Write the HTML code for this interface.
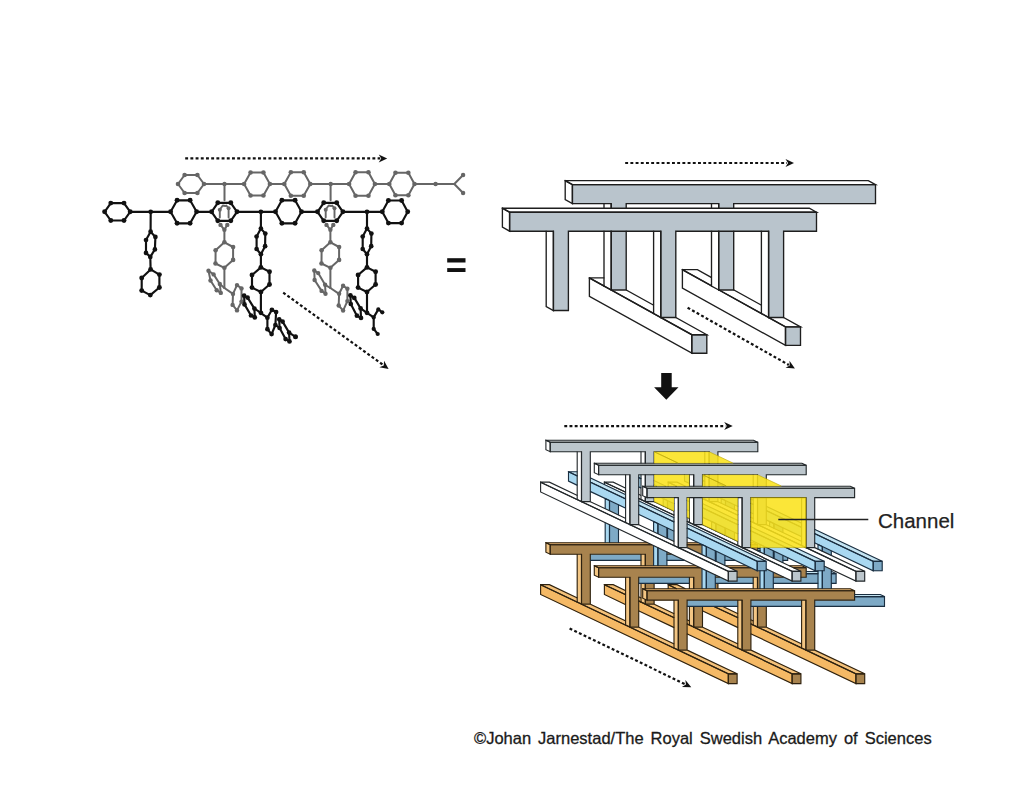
<!DOCTYPE html>
<html><head><meta charset="utf-8"><style>
html,body{margin:0;padding:0;background:#fff;}
body{width:1024px;height:788px;overflow:hidden;font-family:"Liberation Sans",sans-serif;}
svg{display:block;}
</style></head><body>
<svg width="1024" height="788" viewBox="0 0 1024 788">
<path d="M204 184 L244.1 184" fill="none" stroke="#666666" stroke-width="2" stroke-linejoin="round" stroke-linecap="round"/>
<path d="M269.9 184 L284.3 184" fill="none" stroke="#666666" stroke-width="2" stroke-linejoin="round" stroke-linecap="round"/>
<path d="M310.4 184 L349.1 184" fill="none" stroke="#666666" stroke-width="2" stroke-linejoin="round" stroke-linecap="round"/>
<path d="M374.9 184 L389.3 184" fill="none" stroke="#666666" stroke-width="2" stroke-linejoin="round" stroke-linecap="round"/>
<path d="M414.5 184 L454.3 184" fill="none" stroke="#666666" stroke-width="2" stroke-linejoin="round" stroke-linecap="round"/>
<path d="M463.1 175 L454.3 184 L463.1 193" fill="none" stroke="#666666" stroke-width="2" stroke-linejoin="round" stroke-linecap="round"/>
<circle cx="435.6" cy="184" r="2.2" fill="#666666"/><circle cx="463.1" cy="175" r="2.2" fill="#666666"/><circle cx="463.1" cy="193" r="2.2" fill="#666666"/><circle cx="224.5" cy="184" r="2.2" fill="#666666"/><circle cx="330.7" cy="184" r="2.2" fill="#666666"/>
<path d="M178 184 L184.6 175 L197.4 175 L204 184 L197.4 193 L184.6 193Z" fill="none" stroke="#666666" stroke-width="2" stroke-linejoin="round"/><circle cx="178" cy="184" r="2.3" fill="#666666"/><circle cx="184.6" cy="175" r="2.3" fill="#666666"/><circle cx="197.4" cy="175" r="2.3" fill="#666666"/><circle cx="204" cy="184" r="2.3" fill="#666666"/><circle cx="197.4" cy="193" r="2.3" fill="#666666"/><circle cx="184.6" cy="193" r="2.3" fill="#666666"/>
<path d="M244.1 184 L250.55 172.5 L263.45 172.5 L269.9 184 L263.45 195.5 L250.55 195.5Z" fill="none" stroke="#666666" stroke-width="2" stroke-linejoin="round"/><circle cx="244.1" cy="184" r="2.3" fill="#666666"/><circle cx="250.55" cy="172.5" r="2.3" fill="#666666"/><circle cx="263.45" cy="172.5" r="2.3" fill="#666666"/><circle cx="269.9" cy="184" r="2.3" fill="#666666"/><circle cx="263.45" cy="195.5" r="2.3" fill="#666666"/><circle cx="250.55" cy="195.5" r="2.3" fill="#666666"/>
<path d="M284.3 184 L290.85 172.3 L303.75 172.3 L310.3 184 L303.75 195.7 L290.85 195.7Z" fill="none" stroke="#666666" stroke-width="2" stroke-linejoin="round"/><circle cx="284.3" cy="184" r="2.3" fill="#666666"/><circle cx="290.85" cy="172.3" r="2.3" fill="#666666"/><circle cx="303.75" cy="172.3" r="2.3" fill="#666666"/><circle cx="310.3" cy="184" r="2.3" fill="#666666"/><circle cx="303.75" cy="195.7" r="2.3" fill="#666666"/><circle cx="290.85" cy="195.7" r="2.3" fill="#666666"/>
<path d="M349.1 184 L355.55 172.3 L368.45 172.3 L374.9 184 L368.45 195.7 L355.55 195.7Z" fill="none" stroke="#666666" stroke-width="2" stroke-linejoin="round"/><circle cx="349.1" cy="184" r="2.3" fill="#666666"/><circle cx="355.55" cy="172.3" r="2.3" fill="#666666"/><circle cx="368.45" cy="172.3" r="2.3" fill="#666666"/><circle cx="374.9" cy="184" r="2.3" fill="#666666"/><circle cx="368.45" cy="195.7" r="2.3" fill="#666666"/><circle cx="355.55" cy="195.7" r="2.3" fill="#666666"/>
<path d="M389.3 184 L395.45 172.7 L408.35 172.7 L414.5 184 L408.35 195.3 L395.45 195.3Z" fill="none" stroke="#666666" stroke-width="2" stroke-linejoin="round"/><circle cx="389.3" cy="184" r="2.3" fill="#666666"/><circle cx="395.45" cy="172.7" r="2.3" fill="#666666"/><circle cx="408.35" cy="172.7" r="2.3" fill="#666666"/><circle cx="414.5" cy="184" r="2.3" fill="#666666"/><circle cx="408.35" cy="195.3" r="2.3" fill="#666666"/><circle cx="395.45" cy="195.3" r="2.3" fill="#666666"/>
<path d="M224.5 184 L224.5 200.3" fill="none" stroke="#666666" stroke-width="2" stroke-linejoin="round" stroke-linecap="round"/>
<path d="M330.6 184 L330.6 200.3" fill="none" stroke="#666666" stroke-width="2" stroke-linejoin="round" stroke-linecap="round"/>
<path d="M220.5 224.9 L224.4 229.8 L227.3 224.9" fill="none" stroke="#666666" stroke-width="2" stroke-linejoin="round" stroke-linecap="round"/><circle cx="220.5" cy="224.9" r="2.2" fill="#666666"/><circle cx="227.3" cy="224.9" r="2.2" fill="#666666"/><circle cx="224.4" cy="229.8" r="2.2" fill="#666666"/><path d="M224.4 229.8 L224.4 242.3" fill="none" stroke="#666666" stroke-width="2" stroke-linejoin="round" stroke-linecap="round"/><path d="M224.4 242.3 L233.1 247 L233.1 259.9 L224.4 267.8 L215.5 263.5 L215.6 250.3Z" fill="none" stroke="#666666" stroke-width="2" stroke-linejoin="round"/><circle cx="224.4" cy="242.3" r="2.3" fill="#666666"/><circle cx="233.1" cy="247" r="2.3" fill="#666666"/><circle cx="233.1" cy="259.9" r="2.3" fill="#666666"/><circle cx="224.4" cy="267.8" r="2.3" fill="#666666"/><circle cx="215.5" cy="263.5" r="2.3" fill="#666666"/><circle cx="215.6" cy="250.3" r="2.3" fill="#666666"/><path d="M224.4 267.8 L224.4 288" fill="none" stroke="#666666" stroke-width="2" stroke-linejoin="round" stroke-linecap="round"/><path d="M208.5 270.8 L213.6 274.4 L219.8 284 L220.8 292.9 L216.7 290.2 L210.5 280.5Z" fill="none" stroke="#666666" stroke-width="2" stroke-linejoin="round"/><circle cx="208.5" cy="270.8" r="2.2" fill="#666666"/><circle cx="213.6" cy="274.4" r="2.2" fill="#666666"/><circle cx="219.8" cy="284" r="2.2" fill="#666666"/><circle cx="220.8" cy="292.9" r="2.2" fill="#666666"/><circle cx="216.7" cy="290.2" r="2.2" fill="#666666"/><circle cx="210.5" cy="280.5" r="2.2" fill="#666666"/><path d="M224.4 288 L219.8 284" fill="none" stroke="#666666" stroke-width="2" stroke-linejoin="round" stroke-linecap="round"/><path d="M224.4 288 L233 293.9" fill="none" stroke="#666666" stroke-width="2" stroke-linejoin="round" stroke-linecap="round"/><path d="M233 293.9 L237 285.1 L241.5 288.4 L241.5 301.6 L237 310.4 L232.6 304.9Z" fill="none" stroke="#666666" stroke-width="2" stroke-linejoin="round"/><circle cx="233" cy="293.9" r="2.2" fill="#666666"/><circle cx="237" cy="285.1" r="2.2" fill="#666666"/><circle cx="241.5" cy="288.4" r="2.2" fill="#666666"/><circle cx="241.5" cy="301.6" r="2.2" fill="#666666"/><circle cx="237" cy="310.4" r="2.2" fill="#666666"/><circle cx="232.6" cy="304.9" r="2.2" fill="#666666"/>
<path d="M326.5 224.9 L330.4 229.8 L333.3 224.9" fill="none" stroke="#666666" stroke-width="2" stroke-linejoin="round" stroke-linecap="round"/><circle cx="326.5" cy="224.9" r="2.2" fill="#666666"/><circle cx="333.3" cy="224.9" r="2.2" fill="#666666"/><circle cx="330.4" cy="229.8" r="2.2" fill="#666666"/><path d="M330.4 229.8 L330.4 242.3" fill="none" stroke="#666666" stroke-width="2" stroke-linejoin="round" stroke-linecap="round"/><path d="M330.4 242.3 L339.1 247 L339.1 259.9 L330.4 267.8 L321.5 263.5 L321.6 250.3Z" fill="none" stroke="#666666" stroke-width="2" stroke-linejoin="round"/><circle cx="330.4" cy="242.3" r="2.3" fill="#666666"/><circle cx="339.1" cy="247" r="2.3" fill="#666666"/><circle cx="339.1" cy="259.9" r="2.3" fill="#666666"/><circle cx="330.4" cy="267.8" r="2.3" fill="#666666"/><circle cx="321.5" cy="263.5" r="2.3" fill="#666666"/><circle cx="321.6" cy="250.3" r="2.3" fill="#666666"/><path d="M330.4 267.8 L330.4 288" fill="none" stroke="#666666" stroke-width="2" stroke-linejoin="round" stroke-linecap="round"/><path d="M314.3 270.5 L318.2 273.1 L325.1 284.8 L325.5 293.8 L321.6 290.9 L314.6 280Z" fill="none" stroke="#666666" stroke-width="2" stroke-linejoin="round"/><circle cx="314.3" cy="270.5" r="2.2" fill="#666666"/><circle cx="318.2" cy="273.1" r="2.2" fill="#666666"/><circle cx="325.1" cy="284.8" r="2.2" fill="#666666"/><circle cx="325.5" cy="293.8" r="2.2" fill="#666666"/><circle cx="321.6" cy="290.9" r="2.2" fill="#666666"/><circle cx="314.6" cy="280" r="2.2" fill="#666666"/><path d="M330.4 288 L325.1 284.8" fill="none" stroke="#666666" stroke-width="2" stroke-linejoin="round" stroke-linecap="round"/><path d="M330.4 288 L339.1 293.8" fill="none" stroke="#666666" stroke-width="2" stroke-linejoin="round" stroke-linecap="round"/><path d="M339.1 293.8 L343.1 285.8 L347.4 288.7 L347.4 301.1 L343.1 310.6 L338.7 305.5Z" fill="none" stroke="#666666" stroke-width="2" stroke-linejoin="round"/><circle cx="339.1" cy="293.8" r="2.2" fill="#666666"/><circle cx="343.1" cy="285.8" r="2.2" fill="#666666"/><circle cx="347.4" cy="288.7" r="2.2" fill="#666666"/><circle cx="347.4" cy="301.1" r="2.2" fill="#666666"/><circle cx="343.1" cy="310.6" r="2.2" fill="#666666"/><circle cx="338.7" cy="305.5" r="2.2" fill="#666666"/>
<path d="M130.2 211.8 L170.6 211.8" fill="none" stroke="#111111" stroke-width="2.15" stroke-linejoin="round" stroke-linecap="round"/>
<path d="M196.7 211.8 L211.6 211.8" fill="none" stroke="#111111" stroke-width="2.15" stroke-linejoin="round" stroke-linecap="round"/>
<path d="M237 211.8 L275.5 211.8" fill="none" stroke="#111111" stroke-width="2.15" stroke-linejoin="round" stroke-linecap="round"/>
<path d="M301.6 211.8 L317.5 211.8" fill="none" stroke="#111111" stroke-width="2.15" stroke-linejoin="round" stroke-linecap="round"/>
<path d="M342.9 211.8 L382.3 211.8" fill="none" stroke="#111111" stroke-width="2.15" stroke-linejoin="round" stroke-linecap="round"/>
<path d="M104.6 211.8 L110.8 203.1 L124 203.1 L130.2 211.8 L124 220.5 L110.8 220.5Z" fill="none" stroke="#111111" stroke-width="2.15" stroke-linejoin="round"/><circle cx="104.6" cy="211.8" r="2.45" fill="#111111"/><circle cx="110.8" cy="203.1" r="2.45" fill="#111111"/><circle cx="124" cy="203.1" r="2.45" fill="#111111"/><circle cx="130.2" cy="211.8" r="2.45" fill="#111111"/><circle cx="124" cy="220.5" r="2.45" fill="#111111"/><circle cx="110.8" cy="220.5" r="2.45" fill="#111111"/>
<path d="M170.6 211.8 L177.1 200.3 L190.1 200.3 L196.6 211.8 L190.1 223.3 L177.1 223.3Z" fill="none" stroke="#111111" stroke-width="2.15" stroke-linejoin="round"/><circle cx="170.6" cy="211.8" r="2.45" fill="#111111"/><circle cx="177.1" cy="200.3" r="2.45" fill="#111111"/><circle cx="190.1" cy="200.3" r="2.45" fill="#111111"/><circle cx="196.6" cy="211.8" r="2.45" fill="#111111"/><circle cx="190.1" cy="223.3" r="2.45" fill="#111111"/><circle cx="177.1" cy="223.3" r="2.45" fill="#111111"/>
<path d="M211.6 211.8 L217.8 202.8 L230.8 202.8 L237 211.8 L230.8 220.8 L217.8 220.8Z" fill="none" stroke="#111111" stroke-width="2.15" stroke-linejoin="round"/><circle cx="211.6" cy="211.8" r="2.45" fill="#111111"/><circle cx="217.8" cy="202.8" r="2.45" fill="#111111"/><circle cx="230.8" cy="202.8" r="2.45" fill="#111111"/><circle cx="237" cy="211.8" r="2.45" fill="#111111"/><circle cx="230.8" cy="220.8" r="2.45" fill="#111111"/><circle cx="217.8" cy="220.8" r="2.45" fill="#111111"/>
<path d="M275.5 211.8 L281.9 200.3 L295.1 200.3 L301.5 211.8 L295.1 223.3 L281.9 223.3Z" fill="none" stroke="#111111" stroke-width="2.15" stroke-linejoin="round"/><circle cx="275.5" cy="211.8" r="2.45" fill="#111111"/><circle cx="281.9" cy="200.3" r="2.45" fill="#111111"/><circle cx="295.1" cy="200.3" r="2.45" fill="#111111"/><circle cx="301.5" cy="211.8" r="2.45" fill="#111111"/><circle cx="295.1" cy="223.3" r="2.45" fill="#111111"/><circle cx="281.9" cy="223.3" r="2.45" fill="#111111"/>
<path d="M317.5 211.8 L323.7 202.8 L336.7 202.8 L342.9 211.8 L336.7 220.8 L323.7 220.8Z" fill="none" stroke="#111111" stroke-width="2.15" stroke-linejoin="round"/><circle cx="317.5" cy="211.8" r="2.45" fill="#111111"/><circle cx="323.7" cy="202.8" r="2.45" fill="#111111"/><circle cx="336.7" cy="202.8" r="2.45" fill="#111111"/><circle cx="342.9" cy="211.8" r="2.45" fill="#111111"/><circle cx="336.7" cy="220.8" r="2.45" fill="#111111"/><circle cx="323.7" cy="220.8" r="2.45" fill="#111111"/>
<path d="M382.3 211.8 L388.4 200.5 L401.6 200.5 L407.7 211.8 L401.6 223.1 L388.4 223.1Z" fill="none" stroke="#111111" stroke-width="2.15" stroke-linejoin="round"/><circle cx="382.3" cy="211.8" r="2.45" fill="#111111"/><circle cx="388.4" cy="200.5" r="2.45" fill="#111111"/><circle cx="401.6" cy="200.5" r="2.45" fill="#111111"/><circle cx="407.7" cy="211.8" r="2.45" fill="#111111"/><circle cx="401.6" cy="223.1" r="2.45" fill="#111111"/><circle cx="388.4" cy="223.1" r="2.45" fill="#111111"/>
<circle cx="150.7" cy="211.8" r="2.4" fill="#111111"/><circle cx="260.9" cy="211.8" r="2.4" fill="#111111"/><circle cx="367" cy="211.8" r="2.4" fill="#111111"/>
<path d="M219.8 217.5 L219.8 209.5 L222.8 205.5 L225.3 206" fill="none" stroke="#666666" stroke-width="1.9" stroke-linejoin="round" stroke-linecap="round"/><path d="M228.6 217.5 L228.6 208.5 L226.3 205.5" fill="none" stroke="#666666" stroke-width="1.9" stroke-linejoin="round" stroke-linecap="round"/><circle cx="219.8" cy="209.8" r="2" fill="#666666"/><circle cx="228.6" cy="208.3" r="2" fill="#666666"/>
<path d="M325.7 217.5 L325.7 209.5 L328.7 205.5 L331.2 206" fill="none" stroke="#666666" stroke-width="1.9" stroke-linejoin="round" stroke-linecap="round"/><path d="M334.5 217.5 L334.5 208.5 L332.2 205.5" fill="none" stroke="#666666" stroke-width="1.9" stroke-linejoin="round" stroke-linecap="round"/><circle cx="325.7" cy="209.8" r="2" fill="#666666"/><circle cx="334.5" cy="208.3" r="2" fill="#666666"/>
<path d="M150.7 211.8 L150.6 231.7" fill="none" stroke="#111111" stroke-width="2.15" stroke-linejoin="round" stroke-linecap="round"/>
<path d="M150.6 231.7 L155.4 236.9 L154.9 249.4 L150.3 256.9 L146 252.9 L146 240Z" fill="none" stroke="#111111" stroke-width="2.15" stroke-linejoin="round"/><circle cx="150.6" cy="231.7" r="2.35" fill="#111111"/><circle cx="155.4" cy="236.9" r="2.35" fill="#111111"/><circle cx="154.9" cy="249.4" r="2.35" fill="#111111"/><circle cx="150.3" cy="256.9" r="2.35" fill="#111111"/><circle cx="146" cy="252.9" r="2.35" fill="#111111"/><circle cx="146" cy="240" r="2.35" fill="#111111"/>
<path d="M150.3 256.9 L150.6 269.4" fill="none" stroke="#111111" stroke-width="2.15" stroke-linejoin="round" stroke-linecap="round"/>
<path d="M150.6 269.4 L159.4 274.6 L159.4 287.5 L150.3 295.1 L141.7 290.6 L141.7 278Z" fill="none" stroke="#111111" stroke-width="2.15" stroke-linejoin="round"/><circle cx="150.6" cy="269.4" r="2.45" fill="#111111"/><circle cx="159.4" cy="274.6" r="2.45" fill="#111111"/><circle cx="159.4" cy="287.5" r="2.45" fill="#111111"/><circle cx="150.3" cy="295.1" r="2.45" fill="#111111"/><circle cx="141.7" cy="290.6" r="2.45" fill="#111111"/><circle cx="141.7" cy="278" r="2.45" fill="#111111"/>
<path d="M260.9 211.8 L260.9 228.5" fill="none" stroke="#111111" stroke-width="2.15" stroke-linejoin="round" stroke-linecap="round"/><path d="M260.9 228.5 L265.3 233.6 L265.1 246.2 L260.9 254.2 L256.6 249 L256.6 236.5Z" fill="none" stroke="#111111" stroke-width="2.15" stroke-linejoin="round"/><circle cx="260.9" cy="228.5" r="2.35" fill="#111111"/><circle cx="265.3" cy="233.6" r="2.35" fill="#111111"/><circle cx="265.1" cy="246.2" r="2.35" fill="#111111"/><circle cx="260.9" cy="254.2" r="2.35" fill="#111111"/><circle cx="256.6" cy="249" r="2.35" fill="#111111"/><circle cx="256.6" cy="236.5" r="2.35" fill="#111111"/><path d="M260.9 254.2 L260.9 267.4" fill="none" stroke="#111111" stroke-width="2.15" stroke-linejoin="round" stroke-linecap="round"/><path d="M260.9 267.4 L269.5 271.8 L269.5 284.5 L260.9 292 L252 287.6 L252 275Z" fill="none" stroke="#111111" stroke-width="2.15" stroke-linejoin="round"/><circle cx="260.9" cy="267.4" r="2.45" fill="#111111"/><circle cx="269.5" cy="271.8" r="2.45" fill="#111111"/><circle cx="269.5" cy="284.5" r="2.45" fill="#111111"/><circle cx="260.9" cy="292" r="2.45" fill="#111111"/><circle cx="252" cy="287.6" r="2.45" fill="#111111"/><circle cx="252" cy="275" r="2.45" fill="#111111"/><path d="M260.9 292 L260.9 312.8" fill="none" stroke="#111111" stroke-width="2.15" stroke-linejoin="round" stroke-linecap="round"/><path d="M244.1 295.7 L247.6 297.6 L254.4 308.6 L254.8 317.4 L251 315.5 L244.5 304.4Z" fill="none" stroke="#111111" stroke-width="2.15" stroke-linejoin="round"/><circle cx="244.1" cy="295.7" r="2.35" fill="#111111"/><circle cx="247.6" cy="297.6" r="2.35" fill="#111111"/><circle cx="254.4" cy="308.6" r="2.35" fill="#111111"/><circle cx="254.8" cy="317.4" r="2.35" fill="#111111"/><circle cx="251" cy="315.5" r="2.35" fill="#111111"/><circle cx="244.5" cy="304.4" r="2.35" fill="#111111"/><path d="M260.9 312.8 L254.4 308.6" fill="none" stroke="#111111" stroke-width="2.15" stroke-linejoin="round" stroke-linecap="round"/><circle cx="260.9" cy="312.8" r="2.4" fill="#111111"/><path d="M260.5 312.8 L267.4 317.7" fill="none" stroke="#111111" stroke-width="2.15" stroke-linejoin="round" stroke-linecap="round"/><path d="M267.4 317.7 L271.9 309.8 L276.1 312 L275.4 325 L271.6 334.1 L267.4 329.2Z" fill="none" stroke="#111111" stroke-width="2.15" stroke-linejoin="round"/><circle cx="267.4" cy="317.7" r="2.35" fill="#111111"/><circle cx="271.9" cy="309.8" r="2.35" fill="#111111"/><circle cx="276.1" cy="312" r="2.35" fill="#111111"/><circle cx="275.4" cy="325" r="2.35" fill="#111111"/><circle cx="271.6" cy="334.1" r="2.35" fill="#111111"/><circle cx="267.4" cy="329.2" r="2.35" fill="#111111"/><path d="M275.4 325 L279.6 328" fill="none" stroke="#111111" stroke-width="2.15" stroke-linejoin="round" stroke-linecap="round"/><path d="M279.2 319.3 L282.6 321.6 L289.1 332.6 L289.5 341.4 L285.6 339.1 L279.6 328Z" fill="none" stroke="#111111" stroke-width="2.15" stroke-linejoin="round"/><circle cx="279.2" cy="319.3" r="2.35" fill="#111111"/><circle cx="282.6" cy="321.6" r="2.35" fill="#111111"/><circle cx="289.1" cy="332.6" r="2.35" fill="#111111"/><circle cx="289.5" cy="341.4" r="2.35" fill="#111111"/><circle cx="285.6" cy="339.1" r="2.35" fill="#111111"/><circle cx="279.6" cy="328" r="2.35" fill="#111111"/><path d="M289.1 332.6 L295.5 336.8" fill="none" stroke="#111111" stroke-width="2.15" stroke-linejoin="round" stroke-linecap="round"/><circle cx="295.5" cy="336.8" r="2.5" fill="#111111"/>
<path d="M367 211.8 L367 228.5" fill="none" stroke="#111111" stroke-width="2.15" stroke-linejoin="round" stroke-linecap="round"/><path d="M367 228.5 L371.4 233.6 L371.2 246.2 L367 254.2 L362.7 249 L362.7 236.5Z" fill="none" stroke="#111111" stroke-width="2.15" stroke-linejoin="round"/><circle cx="367" cy="228.5" r="2.35" fill="#111111"/><circle cx="371.4" cy="233.6" r="2.35" fill="#111111"/><circle cx="371.2" cy="246.2" r="2.35" fill="#111111"/><circle cx="367" cy="254.2" r="2.35" fill="#111111"/><circle cx="362.7" cy="249" r="2.35" fill="#111111"/><circle cx="362.7" cy="236.5" r="2.35" fill="#111111"/><path d="M367 254.2 L367 267.4" fill="none" stroke="#111111" stroke-width="2.15" stroke-linejoin="round" stroke-linecap="round"/><path d="M367 267.4 L375.6 271.8 L375.6 284.5 L367 292 L358.1 287.6 L358.1 275Z" fill="none" stroke="#111111" stroke-width="2.15" stroke-linejoin="round"/><circle cx="367" cy="267.4" r="2.45" fill="#111111"/><circle cx="375.6" cy="271.8" r="2.45" fill="#111111"/><circle cx="375.6" cy="284.5" r="2.45" fill="#111111"/><circle cx="367" cy="292" r="2.45" fill="#111111"/><circle cx="358.1" cy="287.6" r="2.45" fill="#111111"/><circle cx="358.1" cy="275" r="2.45" fill="#111111"/><path d="M367 292 L367 312.8" fill="none" stroke="#111111" stroke-width="2.15" stroke-linejoin="round" stroke-linecap="round"/><path d="M350.4 295.3 L354.3 297.9 L360.6 308.4 L361 317.9 L356.9 315.7 L350.8 304Z" fill="none" stroke="#111111" stroke-width="2.15" stroke-linejoin="round"/><circle cx="350.4" cy="295.3" r="2.35" fill="#111111"/><circle cx="354.3" cy="297.9" r="2.35" fill="#111111"/><circle cx="360.6" cy="308.4" r="2.35" fill="#111111"/><circle cx="361" cy="317.9" r="2.35" fill="#111111"/><circle cx="356.9" cy="315.7" r="2.35" fill="#111111"/><circle cx="350.8" cy="304" r="2.35" fill="#111111"/><path d="M367 312.8 L360.6 308.4" fill="none" stroke="#111111" stroke-width="2.15" stroke-linejoin="round" stroke-linecap="round"/><circle cx="367" cy="312.8" r="2.4" fill="#111111"/><path d="M367 312.8 L373.7 317.4 L378.3 309.4 L382.3 312.3" fill="none" stroke="#111111" stroke-width="2.15" stroke-linejoin="round" stroke-linecap="round"/><path d="M373.7 317.4 L373.7 328.9 L377.7 334" fill="none" stroke="#111111" stroke-width="2.15" stroke-linejoin="round" stroke-linecap="round"/><circle cx="373.7" cy="317.4" r="2.1" fill="#111111"/><circle cx="378.3" cy="309.4" r="2.1" fill="#111111"/><circle cx="382.3" cy="312.3" r="2.1" fill="#111111"/><circle cx="373.7" cy="328.9" r="2.1" fill="#111111"/><circle cx="377.7" cy="334" r="2.1" fill="#111111"/>
<path d="M875.5 184.67 572.4 184.67 572.4 203.67 611.2 203.67 611.2 208.2 626.2 208.2 626.2 203.67 718.7 203.67 718.7 208.2 733.7 208.2 733.7 203.67 875.5 203.67ZM718.7 289.97 733.7 289.97 733.7 231.2 718.7 231.2ZM611.2 289.97 626.2 289.97 626.2 231.2 611.2 231.2Z" fill="#b9c4cc" stroke="#b9c4cc" stroke-width="0.35"/>
<path d="M565.2 180.68 868.3 180.68 875.5 184.67 572.4 184.67Z" fill="#ffffff" stroke="#ffffff" stroke-width="0.35"/>
<path d="M565.2 180.68 572.4 184.67 572.4 203.67 565.2 199.68Z" fill="#ffffff" stroke="#ffffff" stroke-width="0.35"/>
<path d="M604 285.98 611.2 289.97 611.2 231.2 604 231.2ZM611.2 203.67 604 203.67 604 208.2 611.2 208.2Z" fill="#ffffff" stroke="#ffffff" stroke-width="0.35"/>
<path d="M711.5 285.98 718.7 289.97 718.7 231.2 711.5 231.2ZM718.7 203.67 711.5 203.67 711.5 208.2 718.7 208.2Z" fill="#ffffff" stroke="#ffffff" stroke-width="0.35"/>
<path d="M816.5 212.2 509.6 212.2 509.6 231.2 553.4 231.2 553.4 310.5 568.4 310.5 568.4 231.2 660.8 231.2 660.8 317.5 675.8 317.5 675.8 231.2 768.6 231.2 768.6 317.5 783.6 317.5 783.6 231.2 816.5 231.2Z" fill="#b9c4cc" stroke="#b9c4cc" stroke-width="0.35"/>
<path d="M502.4 208.2 809.3 208.2 816.5 212.2 509.6 212.2Z" fill="#ffffff" stroke="#ffffff" stroke-width="0.35"/>
<path d="M502.4 208.2 509.6 212.2 509.6 231.2 502.4 227.2Z" fill="#ffffff" stroke="#ffffff" stroke-width="0.35"/>
<path d="M546.2 306.5 553.4 310.5 553.4 231.2 546.2 231.2Z" fill="#ffffff" stroke="#ffffff" stroke-width="0.35"/>
<path d="M653.6 313.5 660.8 317.5 660.8 231.2 653.6 231.2Z" fill="#ffffff" stroke="#ffffff" stroke-width="0.35"/>
<path d="M761.4 313.5 768.6 317.5 768.6 231.2 761.4 231.2Z" fill="#ffffff" stroke="#ffffff" stroke-width="0.35"/>
<path d="M691.8 334.7 706.8 334.7 706.8 353.2 691.8 353.2Z" fill="#b9c4cc" stroke="#b9c4cc" stroke-width="0.35"/>
<path d="M675.8 317.5 660.8 317.5 691.8 334.7 706.8 334.7ZM626.2 289.97 611.2 289.97 653.6 313.5 653.6 305.18ZM589.4 277.87 604 285.98 604 277.87Z" fill="#ffffff" stroke="#ffffff" stroke-width="0.35"/>
<path d="M589.4 277.87 691.8 334.7 691.8 353.2 589.4 296.37Z" fill="#ffffff" stroke="#ffffff" stroke-width="0.35"/>
<path d="M785.5 326.88 800.5 326.88 800.5 345.38 785.5 345.38Z" fill="#b9c4cc" stroke="#b9c4cc" stroke-width="0.35"/>
<path d="M785.5 326.88 800.5 326.88 783.6 317.5 768.6 317.5ZM733.7 289.81 733.7 289.97 719 289.97 761.4 313.5 761.4 305.18ZM697.4 269.66 682.4 269.66 711.5 285.81 711.5 277.48Z" fill="#ffffff" stroke="#ffffff" stroke-width="0.35"/>
<path d="M682.4 288.16 785.5 345.38 785.5 326.88 718.7 289.81 718.7 289.97 711.5 285.98 711.5 285.81 682.4 269.66Z" fill="#ffffff" stroke="#ffffff" stroke-width="0.35"/>
<path d="M875.5 203.67 L875.5 184.67 L572.4 184.67 L572.4 203.67 L611.2 203.67 L611.2 207.9M611.2 231.5 L611.2 289.97 L626.2 289.97 L626.2 231.5M626.2 207.9 L626.2 203.67 L718.7 203.67 L718.7 207.9M718.7 231.5 L718.7 289.97 L733.7 289.97 L733.7 231.5M733.7 207.9 L733.7 203.67 L875.5 203.67" fill="none" stroke="#1e1e1e" stroke-width="1.35" stroke-linecap="square" stroke-linejoin="miter"/>
<path d="M565.2 180.68 L868.3 180.68 L875.5 184.67 L572.4 184.67 L565.2 180.68" fill="none" stroke="#1e1e1e" stroke-width="1.35" stroke-linecap="square" stroke-linejoin="miter"/>
<path d="M565.2 180.68 L572.4 184.67 L572.4 203.67 L565.2 199.68 L565.2 180.68" fill="none" stroke="#1e1e1e" stroke-width="1.35" stroke-linecap="square" stroke-linejoin="miter"/>
<path d="M611.2 203.97 L611.2 207.9M611.2 231.5 L611.2 289.97 L604 285.98 L604 231.5M604 207.9 L604 203.97" fill="none" stroke="#1e1e1e" stroke-width="1.35" stroke-linecap="square" stroke-linejoin="miter"/>
<path d="M718.7 203.97 L718.7 207.9M718.7 231.5 L718.7 289.97 L711.5 285.98 L711.5 231.5M711.5 207.9 L711.5 203.97" fill="none" stroke="#1e1e1e" stroke-width="1.35" stroke-linecap="square" stroke-linejoin="miter"/>
<path d="M816.5 212.2 L509.6 212.2 L509.6 231.2 L553.4 231.2 L553.4 310.5 L568.4 310.5 L568.4 231.2 L660.8 231.2 L660.8 317.5 L675.8 317.5 L675.8 231.2 L768.6 231.2 L768.6 317.5 L783.6 317.5 L783.6 231.2 L816.5 231.2 L816.5 212.2" fill="none" stroke="#1e1e1e" stroke-width="1.35" stroke-linecap="square" stroke-linejoin="miter"/>
<path d="M502.4 208.2 L809.3 208.2 L816.5 212.2 L509.6 212.2 L502.4 208.2" fill="none" stroke="#1e1e1e" stroke-width="1.35" stroke-linecap="square" stroke-linejoin="miter"/>
<path d="M502.4 208.2 L509.6 212.2 L509.6 231.2 L502.4 227.2 L502.4 208.2" fill="none" stroke="#1e1e1e" stroke-width="1.35" stroke-linecap="square" stroke-linejoin="miter"/>
<path d="M553.4 231.5 L553.4 310.5 L546.2 306.5 L546.2 231.5" fill="none" stroke="#1e1e1e" stroke-width="1.35" stroke-linecap="square" stroke-linejoin="miter"/>
<path d="M660.8 231.5 L660.8 317.5 L653.6 313.5 L653.6 231.5" fill="none" stroke="#1e1e1e" stroke-width="1.35" stroke-linecap="square" stroke-linejoin="miter"/>
<path d="M768.6 231.5 L768.6 317.5 L761.4 313.5 L761.4 231.5" fill="none" stroke="#1e1e1e" stroke-width="1.35" stroke-linecap="square" stroke-linejoin="miter"/>
<path d="M691.8 334.7 L706.8 334.7 L706.8 353.2 L691.8 353.2 L691.8 334.7" fill="none" stroke="#1e1e1e" stroke-width="1.35" stroke-linecap="square" stroke-linejoin="miter"/>
<path d="M589.4 277.87 L603.7 277.87M626.74 290.27 L653.3 305.01M676.34 317.8 L706.8 334.7 L691.8 334.7 L661.34 317.8M653.3 313.34 L611.74 290.27M603.7 285.81 L589.4 277.87" fill="none" stroke="#1e1e1e" stroke-width="1.35" stroke-linecap="square" stroke-linejoin="miter"/>
<path d="M589.4 277.87 L691.8 334.7 L691.8 353.2 L589.4 296.37 L589.4 277.87" fill="none" stroke="#1e1e1e" stroke-width="1.35" stroke-linecap="square" stroke-linejoin="miter"/>
<path d="M785.5 326.88 L800.5 326.88 L800.5 345.38 L785.5 345.38 L785.5 326.88" fill="none" stroke="#1e1e1e" stroke-width="1.35" stroke-linecap="square" stroke-linejoin="miter"/>
<path d="M682.4 269.66 L697.4 269.66 L711.2 277.32M734 289.97 L761.1 305.01M784.14 317.8 L800.5 326.88 L785.5 326.88 L769.14 317.8M761.1 313.34 L719.54 290.27M711.2 285.64 L682.4 269.66" fill="none" stroke="#1e1e1e" stroke-width="1.35" stroke-linecap="square" stroke-linejoin="miter"/>
<path d="M682.4 269.66 L711.2 285.64M719 289.97 L785.5 326.88 L785.5 345.38 L682.4 288.16 L682.4 269.66" fill="none" stroke="#1e1e1e" stroke-width="1.35" stroke-linecap="square" stroke-linejoin="miter"/>
<path d="M550.2 442.3 550.2 451.7 581.5 451.7 581.5 501.6 590.3 501.6 590.3 451.7 645.3 451.7 645.3 463.25 654.1 463.25 654.1 451.7 709.1 451.7 709.1 463.25 717.9 463.25 717.9 451.7 757.8 451.7 757.8 442.3ZM709.1 486.24 717.9 486.24 717.9 474.69 709.1 474.69ZM709.1 501.6 717.9 501.6 717.9 497.68 709.1 497.68ZM645.3 486.24 654.1 486.24 654.1 474.69 645.3 474.69ZM645.3 501.6 654.1 501.6 654.1 497.68 647 497.68 645.3 496.87Z" fill="#bcc6cc" stroke="#bcc6cc" stroke-width="0.35"/>
<path d="M545.9 440.26 753.5 440.26 757.8 442.3 550.2 442.3Z" fill="#dfe3e5" stroke="#dfe3e5" stroke-width="0.35"/>
<path d="M545.9 440.26 550.2 442.3 550.2 451.7 545.9 449.66Z" fill="#ffffff" stroke="#ffffff" stroke-width="0.35"/>
<path d="M577.2 499.56 581.5 501.6 581.5 451.7 577.2 451.7Z" fill="#ffffff" stroke="#ffffff" stroke-width="0.35"/>
<path d="M645.3 451.7 641 451.7 641 463.25 645.3 463.25ZM645.3 474.69 641 474.69 641 499.56 645.3 501.6 645.3 496.87 642.7 495.64 642.7 486.24 645.3 486.24Z" fill="#ffffff" stroke="#ffffff" stroke-width="0.35"/>
<path d="M704.8 499.56 709.1 501.6 709.1 497.68 704.8 497.68ZM709.1 451.7 704.8 451.7 704.8 463.25 709.1 463.25ZM709.1 474.69 704.8 474.69 704.8 486.24 709.1 486.24Z" fill="#ffffff" stroke="#ffffff" stroke-width="0.35"/>
<path d="M598.6 465.29 598.6 474.69 629.9 474.69 629.9 524.59 638.7 524.59 638.7 474.69 693.7 474.69 693.7 486.24 702.5 486.24 702.5 474.69 757.5 474.69 757.5 486.24 766.3 486.24 766.3 474.69 806.2 474.69 806.2 465.29ZM757.5 524.59 766.3 524.59 766.3 497.68 757.5 497.68ZM693.7 524.59 702.5 524.59 702.5 497.68 693.7 497.68Z" fill="#bcc6cc" stroke="#bcc6cc" stroke-width="0.35"/>
<path d="M594.3 463.25 801.9 463.25 806.2 465.29 598.6 465.29Z" fill="#dfe3e5" stroke="#dfe3e5" stroke-width="0.35"/>
<path d="M594.3 463.25 598.6 465.29 598.6 474.69 594.3 472.65Z" fill="#ffffff" stroke="#ffffff" stroke-width="0.35"/>
<path d="M625.6 522.55 629.9 524.59 629.9 474.69 625.6 474.69Z" fill="#ffffff" stroke="#ffffff" stroke-width="0.35"/>
<path d="M689.4 522.55 693.7 524.59 693.7 497.68 689.4 497.68ZM693.7 474.69 689.4 474.69 689.4 486.24 693.7 486.24Z" fill="#ffffff" stroke="#ffffff" stroke-width="0.35"/>
<path d="M753.2 522.55 757.5 524.59 757.5 497.68 753.2 497.68ZM757.5 474.69 753.2 474.69 753.2 486.24 757.5 486.24Z" fill="#ffffff" stroke="#ffffff" stroke-width="0.35"/>
<path d="M854.6 488.28 647 488.28 647 497.68 678.3 497.68 678.3 547.58 687.1 547.58 687.1 497.68 742.1 497.68 742.1 547.58 750.9 547.58 750.9 497.68 805.9 497.68 805.9 547.58 814.7 547.58 814.7 497.68 854.6 497.68Z" fill="#bcc6cc" stroke="#bcc6cc" stroke-width="0.35"/>
<path d="M642.7 486.24 850.3 486.24 854.6 488.28 647 488.28Z" fill="#dfe3e5" stroke="#dfe3e5" stroke-width="0.35"/>
<path d="M642.7 486.24 647 488.28 647 497.68 642.7 495.64Z" fill="#ffffff" stroke="#ffffff" stroke-width="0.35"/>
<path d="M674 545.54 678.3 547.58 678.3 497.68 674 497.68Z" fill="#ffffff" stroke="#ffffff" stroke-width="0.35"/>
<path d="M737.8 545.54 742.1 547.58 742.1 497.68 737.8 497.68Z" fill="#ffffff" stroke="#ffffff" stroke-width="0.35"/>
<path d="M801.6 545.54 805.9 547.58 805.9 497.68 801.6 497.68Z" fill="#ffffff" stroke="#ffffff" stroke-width="0.35"/>
<path d="M728.3 571.33 737.1 571.33 737.1 581.13 728.3 581.13Z" fill="#bcc6cc" stroke="#bcc6cc" stroke-width="0.35"/>
<path d="M687.1 547.58 678.3 547.58 728.3 571.33 737.1 571.33ZM674 541.36 638.7 524.59 629.9 524.59 674 545.54ZM590.3 501.6 581.5 501.6 625.6 522.55 625.6 518.37ZM549.4 482.17 540.6 482.17 577.2 499.56 577.2 495.38Z" fill="#ffffff" stroke="#ffffff" stroke-width="0.35"/>
<path d="M540.6 482.17 728.3 571.33 728.3 581.13 540.6 491.97Z" fill="#ffffff" stroke="#ffffff" stroke-width="0.35"/>
<path d="M792.1 571.33 800.9 571.33 800.9 581.13 792.1 581.13Z" fill="#bcc6cc" stroke="#bcc6cc" stroke-width="0.35"/>
<path d="M792.1 571.33 800.9 571.33 750.9 547.58 742.1 547.58ZM702.5 524.59 693.7 524.59 737.8 545.54 737.8 541.36ZM687.1 517.27 687.1 521.46 689.4 522.55 689.4 518.37ZM654.1 501.6 645.3 501.6 674 515.23 674 511.05ZM638.7 494.29 638.7 498.46 641 499.56 641 495.38ZM613.2 482.17 604.4 482.17 625.6 492.24 625.6 488.06Z" fill="#ffffff" stroke="#ffffff" stroke-width="0.35"/>
<path d="M687.1 521.46 687.1 523.78 766.2 561.36 766.2 568.83 792.1 581.13 792.1 571.33ZM638.7 498.46 638.7 500.79 674 517.56 674 515.23ZM604.4 482.17 604.4 484.5 625.6 494.57 625.6 492.24Z" fill="#ffffff" stroke="#ffffff" stroke-width="0.35"/>
<path d="M855.9 571.33 864.7 571.33 864.7 581.13 855.9 581.13Z" fill="#bcc6cc" stroke="#bcc6cc" stroke-width="0.35"/>
<path d="M855.9 571.33 864.7 571.33 814.7 547.58 805.9 547.58ZM766.3 524.59 757.5 524.59 801.6 545.54 801.6 541.36ZM750.9 517.27 750.9 521.45 753.2 522.55 753.2 518.37ZM717.9 501.6 709.1 501.6 737.8 515.23 737.8 511.05ZM704.8 499.56 704.8 497.68 702.5 497.68 702.5 498.46ZM677 482.17 668.2 482.17 676.76 486.24 685.56 486.24Z" fill="#ffffff" stroke="#ffffff" stroke-width="0.35"/>
<path d="M855.9 581.13 855.9 571.33 750.9 521.45 750.9 526.54 824.2 561.36 824.2 566.07ZM702.5 498.46 702.5 503.55 737.8 520.32 737.8 515.23ZM668.2 482.17 668.2 486.24 676.76 486.24Z" fill="#ffffff" stroke="#ffffff" stroke-width="0.35"/>
<path d="M750.9 544.8 750.9 547.58 757.8 550.86 757.8 544.8ZM717.9 583.39 715.3 583.39 715.3 588.74 717.9 588.74ZM687.1 544.8 687.1 547.58 701.04 554.2 702 554.2 702 544.8ZM671.61 554.2 666.9 551.97 666.9 554.2ZM645.3 588.74 654.1 588.74 654.1 583.39 645.3 583.39ZM645.3 604.1 654.1 604.1 654.1 600.18 647 600.18 645.3 599.37ZM550.2 544.8 550.2 554.2 581.5 554.2 581.5 604.1 590.3 604.1 590.3 554.2 645.3 554.2 645.3 565.75 653.6 565.75 653.6 545.65 651.82 544.8Z" fill="#a8834e" stroke="#a8834e" stroke-width="0.35"/>
<path d="M757.8 544.8 753.5 542.76 750.9 542.76 750.9 544.8ZM687.1 542.76 687.1 544.8 702 544.8 702 544.54 698.25 542.76ZM545.9 542.76 550.2 544.8 651.82 544.8 647.52 542.76Z" fill="#e9b774" stroke="#e9b774" stroke-width="0.35"/>
<path d="M545.9 542.76 550.2 544.8 550.2 554.2 545.9 552.16Z" fill="#f3c684" stroke="#f3c684" stroke-width="0.35"/>
<path d="M577.2 602.06 581.5 604.1 581.5 554.2 577.2 554.2Z" fill="#f3c684" stroke="#f3c684" stroke-width="0.35"/>
<path d="M645.3 554.2 641 554.2 641 565.75 645.3 565.75ZM645.3 583.39 641 583.39 641 602.06 645.3 604.1 645.3 599.37 642.7 598.14 642.7 588.74 645.3 588.74Z" fill="#f3c684" stroke="#f3c684" stroke-width="0.35"/>
<path d="M793.45 567.79 800.9 571.33 800.9 577.19 806.2 577.19 806.2 567.79ZM783.81 577.19 773.3 572.2 773.3 577.19ZM757.5 627.09 766.3 627.09 766.3 606.38 757.5 606.38ZM729.65 567.79 737.1 571.33 737.1 577.19 757.5 577.19 757.5 588.74 760 588.74 760 570.76 757.2 570.76 750.95 567.79ZM720.01 577.19 715.3 574.96 715.3 577.19ZM693.7 627.09 702.5 627.09 702.5 606.38 693.7 606.38ZM598.6 567.79 598.6 577.19 629.9 577.19 629.9 627.09 638.7 627.09 638.7 577.19 693.7 577.19 693.7 588.74 702 588.74 702 568.64 700.22 567.79Z" fill="#a8834e" stroke="#a8834e" stroke-width="0.35"/>
<path d="M806.2 567.79 801.9 565.75 789.15 565.75 793.45 567.79ZM725.35 565.75 729.65 567.79 750.95 567.79 746.65 565.75ZM594.3 565.75 598.6 567.79 700.22 567.79 695.92 565.75Z" fill="#e9b774" stroke="#e9b774" stroke-width="0.35"/>
<path d="M594.3 565.75 598.6 567.79 598.6 577.19 594.3 575.15Z" fill="#f3c684" stroke="#f3c684" stroke-width="0.35"/>
<path d="M625.6 625.05 629.9 627.09 629.9 577.19 625.6 577.19Z" fill="#f3c684" stroke="#f3c684" stroke-width="0.35"/>
<path d="M689.4 625.05 693.7 627.09 693.7 606.38 689.4 606.38ZM693.7 577.19 689.4 577.19 689.4 588.74 693.7 588.74Z" fill="#f3c684" stroke="#f3c684" stroke-width="0.35"/>
<path d="M753.2 625.05 757.5 627.09 757.5 606.38 753.2 606.38ZM757.5 577.19 753.2 577.19 753.2 588.74 757.5 588.74Z" fill="#f3c684" stroke="#f3c684" stroke-width="0.35"/>
<path d="M854.6 590.78 647 590.78 647 600.18 678.3 600.18 678.3 650.08 687.1 650.08 687.1 600.18 742.1 600.18 742.1 650.08 750.9 650.08 750.9 600.18 805.9 600.18 805.9 650.08 814.7 650.08 814.7 600.18 854.6 600.18Z" fill="#a8834e" stroke="#a8834e" stroke-width="0.35"/>
<path d="M642.7 588.74 850.3 588.74 854.6 590.78 647 590.78Z" fill="#e9b774" stroke="#e9b774" stroke-width="0.35"/>
<path d="M642.7 588.74 647 590.78 647 600.18 642.7 598.14Z" fill="#f3c684" stroke="#f3c684" stroke-width="0.35"/>
<path d="M674 648.04 678.3 650.08 678.3 600.18 674 600.18Z" fill="#f3c684" stroke="#f3c684" stroke-width="0.35"/>
<path d="M737.8 648.04 742.1 650.08 742.1 600.18 737.8 600.18Z" fill="#f3c684" stroke="#f3c684" stroke-width="0.35"/>
<path d="M801.6 648.04 805.9 650.08 805.9 600.18 801.6 600.18Z" fill="#f3c684" stroke="#f3c684" stroke-width="0.35"/>
<path d="M728.3 673.83 737.1 673.83 737.1 683.63 728.3 683.63Z" fill="#a8834e" stroke="#a8834e" stroke-width="0.35"/>
<path d="M728.3 673.83 737.1 673.83 687.1 650.08 678.3 650.08ZM638.7 627.09 629.9 627.09 674 648.04 674 643.86ZM590.3 604.1 581.5 604.1 625.6 625.05 625.6 620.87ZM549.4 584.67 540.6 584.67 577.2 602.06 577.2 597.88Z" fill="#f5c27a" stroke="#f5c27a" stroke-width="0.35"/>
<path d="M540.6 584.67 728.3 673.83 728.3 683.63 540.6 594.47Z" fill="#f5b965" stroke="#f5b965" stroke-width="0.35"/>
<path d="M792.1 673.83 800.9 673.83 800.9 683.63 792.1 683.63Z" fill="#a8834e" stroke="#a8834e" stroke-width="0.35"/>
<path d="M792.1 673.83 800.9 673.83 750.9 650.08 742.1 650.08ZM702.5 627.09 693.7 627.09 737.8 648.04 737.8 643.86ZM687.1 619.77 687.1 623.96 689.4 625.05 689.4 620.87ZM654.1 604.1 645.3 604.1 674 617.73 674 613.55ZM638.7 596.78 638.7 600.97 641 602.06 641 597.88ZM613.2 584.67 604.4 584.67 625.6 594.74 625.6 590.56Z" fill="#f5c27a" stroke="#f5c27a" stroke-width="0.35"/>
<path d="M687.1 623.96 687.1 633.75 792.1 683.63 792.1 673.83ZM638.7 600.97 638.7 610.76 674 627.53 674 617.73ZM604.4 584.67 604.4 594.47 625.6 604.54 625.6 594.74Z" fill="#f5b965" stroke="#f5b965" stroke-width="0.35"/>
<path d="M855.9 673.83 864.7 673.83 864.7 683.63 855.9 683.63Z" fill="#a8834e" stroke="#a8834e" stroke-width="0.35"/>
<path d="M855.9 673.83 864.7 673.83 814.7 650.08 805.9 650.08ZM766.3 627.09 757.5 627.09 801.6 648.04 801.6 643.86ZM750.9 619.77 750.9 623.95 753.2 625.05 753.2 620.87ZM722.7 606.38 713.9 606.38 737.8 617.73 737.8 613.55ZM677 584.67 668.2 584.67 676.76 588.74 685.56 588.74Z" fill="#f5c27a" stroke="#f5c27a" stroke-width="0.35"/>
<path d="M855.9 683.63 855.9 673.83 750.9 623.95 750.9 633.75ZM713.9 606.38 702.5 606.38 702.5 610.76 737.8 627.53 737.8 617.73ZM668.2 584.67 668.2 588.74 676.76 588.74Z" fill="#f5b965" stroke="#f5b965" stroke-width="0.35"/>
<path d="M787.7 560.4 787.7 557.7 782.9 555.41 782.9 560.4ZM757.8 550.6 757.8 550.86 760 551.9 760 550.6ZM735.39 560.4 724.9 555.41 724.9 560.4ZM734.5 504.88 725.5 500.6 725.5 505.21 734.5 509.49ZM734.5 532.43 725.5 528.15 725.5 535.52 734.5 539.79ZM702 554.66 702 554.2 701.04 554.2ZM684.66 560.4 671.61 554.2 666.9 554.2 666.9 560.4ZM667.5 507.97 674 511.05 674 503.69 667.5 500.6ZM667.5 538.27 674 541.36 674 531.24 667.5 528.15ZM641 560.4 641 554.2 590.3 554.2 590.3 560.4ZM609.5 510.72 618.5 515 618.5 504.88 609.5 500.6ZM609.5 542.76 618.5 542.76 618.5 528.98 609.5 524.7Z" fill="#7eaac6" stroke="#7eaac6" stroke-width="0.35"/>
<path d="M757.8 548.56 757.8 550.6 760 550.6 760 548.56Z" fill="#c4e4f2" stroke="#c4e4f2" stroke-width="0.35"/>
<path d="M609.5 500.6 605.2 498.56 605.2 508.68 609.5 510.72ZM609.5 524.7 605.2 522.66 605.2 542.76 609.5 542.76Z" fill="#a9d8f1" stroke="#a9d8f1" stroke-width="0.35"/>
<path d="M667.5 500.6 663.2 498.56 663.2 505.92 667.5 507.97ZM667.5 528.15 666.9 527.87 666.9 537.99 667.5 538.27Z" fill="#a9d8f1" stroke="#a9d8f1" stroke-width="0.35"/>
<path d="M725.5 500.6 721.2 498.56 721.2 503.17 725.5 505.21ZM725.5 528.15 724.9 527.87 724.9 535.23 725.5 535.51Z" fill="#a9d8f1" stroke="#a9d8f1" stroke-width="0.35"/>
<path d="M836.1 583.39 836.1 573.59 831.3 573.59 831.3 583.39ZM818 583.39 818 573.59 806.2 573.59 806.2 577.19 800.9 577.19 800.9 581.13 792.1 581.13 783.81 577.19 773.3 577.19 773.3 583.39ZM782.9 527.87 773.9 523.59 773.9 528.2 782.9 532.48ZM782.9 555.41 773.9 551.14 773.9 558.51 782.9 562.78ZM753.2 583.39 753.2 577.19 737.1 577.19 737.1 581.13 728.3 581.13 720.01 577.19 715.3 577.19 715.3 583.39ZM724.9 527.87 715.9 523.59 715.9 530.96 724.9 535.23ZM724.9 555.41 715.9 551.14 715.9 561.26 724.9 565.54ZM689.4 583.39 689.4 577.19 638.7 577.19 638.7 583.39ZM657.9 523.59 657.9 533.71 666.9 537.99 666.9 527.87ZM657.9 565.75 666.9 565.75 666.9 551.97 657.9 547.69Z" fill="#7eaac6" stroke="#7eaac6" stroke-width="0.35"/>
<path d="M836.1 573.59 831.8 571.55 831.3 571.55 831.3 573.59ZM806.2 571.55 806.2 573.59 818 573.59 818 571.55Z" fill="#c4e4f2" stroke="#c4e4f2" stroke-width="0.35"/>
<path d="M657.9 523.59 653.6 521.55 653.6 531.67 657.9 533.71ZM657.9 547.69 653.6 545.65 653.6 565.75 657.9 565.75Z" fill="#a9d8f1" stroke="#a9d8f1" stroke-width="0.35"/>
<path d="M715.9 523.59 711.6 521.55 711.6 528.91 715.9 530.96ZM715.9 551.14 715.3 550.86 715.3 560.98 715.9 561.26Z" fill="#a9d8f1" stroke="#a9d8f1" stroke-width="0.35"/>
<path d="M773.9 523.59 769.6 521.55 769.6 526.16 773.9 528.2ZM773.9 551.14 773.3 550.86 773.3 558.22 773.9 558.5Z" fill="#a9d8f1" stroke="#a9d8f1" stroke-width="0.35"/>
<path d="M884.5 606.38 884.5 596.58 854.6 596.58 854.6 600.18 814.7 600.18 814.7 606.38ZM831.3 550.86 822.3 546.58 822.3 551.19 831.3 555.47ZM831.3 569.44 824.2 566.07 824.2 570.76 822.3 570.76 822.3 588.74 831.3 588.74ZM801.6 606.38 801.6 600.18 750.9 600.18 750.9 606.38ZM773.3 550.86 764.3 546.58 764.3 553.95 773.3 558.22ZM773.3 572.2 766.2 568.83 766.2 570.76 764.3 570.76 764.3 588.74 773.3 588.74ZM737.8 606.38 737.8 600.18 687.1 600.18 687.1 606.38ZM706.3 546.58 706.3 556.7 715.3 560.98 715.3 550.86ZM706.3 588.74 715.3 588.74 715.3 574.96 706.3 570.68Z" fill="#7eaac6" stroke="#7eaac6" stroke-width="0.35"/>
<path d="M884.5 596.58 880.2 594.54 854.6 594.54 854.6 596.58Z" fill="#c4e4f2" stroke="#c4e4f2" stroke-width="0.35"/>
<path d="M706.3 546.58 702 544.54 702 554.66 706.3 556.7ZM706.3 570.68 702 568.64 702 588.74 706.3 588.74Z" fill="#a9d8f1" stroke="#a9d8f1" stroke-width="0.35"/>
<path d="M764.3 546.58 760 544.54 760 551.9 764.3 553.95ZM764.3 570.76 760 570.76 760 588.74 764.3 588.74Z" fill="#a9d8f1" stroke="#a9d8f1" stroke-width="0.35"/>
<path d="M822.3 546.58 818 544.54 818 549.15 822.3 551.19ZM822.3 570.76 818 570.76 818 588.74 822.3 588.74Z" fill="#a9d8f1" stroke="#a9d8f1" stroke-width="0.35"/>
<path d="M757.2 561.36 766.2 561.36 766.2 570.76 757.2 570.76Z" fill="#7eaac6" stroke="#7eaac6" stroke-width="0.35"/>
<path d="M757.2 561.36 766.2 561.36 687.1 523.78 687.1 528.06ZM638.7 500.79 638.7 505.07 674 521.84 674 517.56ZM590.3 477.8 590.3 482.08 625.6 498.85 625.6 494.57ZM568.5 471.72 577.2 475.86 577.2 471.72Z" fill="#c4e4f2" stroke="#c4e4f2" stroke-width="0.35"/>
<path d="M757.2 570.76 757.2 561.36 687.1 528.06 687.1 537.46ZM638.7 505.07 638.7 514.47 674 531.24 674 521.84ZM590.3 482.08 590.3 491.48 625.6 508.25 625.6 498.85ZM568.5 471.72 568.5 481.12 577.2 485.26 577.2 475.86Z" fill="#a9d8f1" stroke="#a9d8f1" stroke-width="0.35"/>
<path d="M815.2 561.36 824.2 561.36 824.2 570.76 815.2 570.76Z" fill="#7eaac6" stroke="#7eaac6" stroke-width="0.35"/>
<path d="M815.2 561.36 824.2 561.36 750.9 526.54 750.9 530.81ZM702.5 503.55 702.5 507.82 737.8 524.59 737.8 520.32ZM689.4 501.6 689.4 497.68 687.1 497.68 687.1 500.51ZM654.1 480.56 654.1 484.83 657.05 486.24 666.05 486.24ZM641 478.61 641 474.69 638.7 474.69 638.7 477.52Z" fill="#c4e4f2" stroke="#c4e4f2" stroke-width="0.35"/>
<path d="M815.2 570.76 815.2 561.36 750.9 530.81 750.9 540.21ZM702.5 507.82 702.5 517.22 737.8 533.99 737.8 524.59ZM687.1 500.51 687.1 509.91 689.4 511 689.4 501.6ZM674 503.69 674 497.68 661.35 497.68ZM654.1 484.83 654.1 486.24 657.05 486.24ZM638.7 477.52 638.7 486.92 641 488.01 641 478.61Z" fill="#a9d8f1" stroke="#a9d8f1" stroke-width="0.35"/>
<path d="M873.2 561.36 882.2 561.36 882.2 570.76 873.2 570.76Z" fill="#7eaac6" stroke="#7eaac6" stroke-width="0.35"/>
<path d="M873.2 561.36 882.2 561.36 814.7 529.29 814.7 533.57ZM766.3 506.3 766.3 510.58 801.6 527.35 801.6 523.07ZM750.9 498.99 750.9 503.26 753.2 504.36 753.2 500.08ZM717.9 483.31 717.9 486.24 724.05 486.24ZM702.5 476 702.5 480.27 704.8 481.37 704.8 477.09Z" fill="#c4e4f2" stroke="#c4e4f2" stroke-width="0.35"/>
<path d="M873.2 570.76 873.2 561.36 814.7 533.57 814.7 542.97ZM766.3 510.58 766.3 519.98 801.6 536.75 801.6 527.35ZM750.9 503.26 750.9 512.66 753.2 513.76 753.2 504.36ZM737.8 506.44 737.8 497.68 719.35 497.68ZM702.5 480.27 702.5 486.24 704.8 486.24 704.8 481.37ZM684.5 481.12 689.4 483.45 689.4 474.69 684.5 474.69Z" fill="#a9d8f1" stroke="#a9d8f1" stroke-width="0.35"/>
<path d="M757.8 442.3 L550.2 442.3 L550.2 451.7 L581.5 451.7 L581.5 501.6 L590.3 501.6 L590.3 451.7 L645.3 451.7 L645.3 462.95M645.3 474.99 L645.3 485.94M645.3 497.2 L645.3 501.6 L654.1 501.6 L654.1 497.98M654.1 485.94 L654.1 474.99M654.1 462.95 L654.1 451.7 L709.1 451.7 L709.1 462.95M709.1 474.99 L709.1 485.94M709.1 497.98 L709.1 501.6 L717.9 501.6 L717.9 497.98M717.9 485.94 L717.9 474.99M717.9 462.95 L717.9 451.7 L757.8 451.7 L757.8 442.3" fill="none" stroke="#23282b" stroke-width="1.12" stroke-linecap="square" stroke-linejoin="miter"/>
<path d="M545.9 440.26 L753.5 440.26 L757.8 442.3 L550.2 442.3 L545.9 440.26" fill="none" stroke="#23282b" stroke-width="1.12" stroke-linecap="square" stroke-linejoin="miter"/>
<path d="M545.9 440.26 L550.2 442.3 L550.2 451.7 L545.9 449.66 L545.9 440.26" fill="none" stroke="#23282b" stroke-width="1.12" stroke-linecap="square" stroke-linejoin="miter"/>
<path d="M581.5 452 L581.5 501.6 L577.2 499.56 L577.2 452" fill="none" stroke="#23282b" stroke-width="1.12" stroke-linecap="square" stroke-linejoin="miter"/>
<path d="M645.3 452 L645.3 462.95M645.3 474.99 L645.3 485.94M645.3 497.2 L645.3 501.6 L641 499.56 L641 474.99M641 462.95 L641 452" fill="none" stroke="#23282b" stroke-width="1.12" stroke-linecap="square" stroke-linejoin="miter"/>
<path d="M709.1 452 L709.1 462.95M709.1 474.99 L709.1 485.94M709.1 497.98 L709.1 501.6 L704.8 499.56 L704.8 497.98M704.8 485.94 L704.8 474.99M704.8 462.95 L704.8 452" fill="none" stroke="#23282b" stroke-width="1.12" stroke-linecap="square" stroke-linejoin="miter"/>
<path d="M806.2 465.29 L598.6 465.29 L598.6 474.69 L629.9 474.69 L629.9 524.59 L638.7 524.59 L638.7 474.69 L693.7 474.69 L693.7 485.94M693.7 497.98 L693.7 524.59 L702.5 524.59 L702.5 497.98M702.5 485.94 L702.5 474.69 L757.5 474.69 L757.5 485.94M757.5 497.98 L757.5 524.59 L766.3 524.59 L766.3 497.98M766.3 485.94 L766.3 474.69 L806.2 474.69 L806.2 465.29" fill="none" stroke="#23282b" stroke-width="1.12" stroke-linecap="square" stroke-linejoin="miter"/>
<path d="M594.3 463.25 L801.9 463.25 L806.2 465.29 L598.6 465.29 L594.3 463.25" fill="none" stroke="#23282b" stroke-width="1.12" stroke-linecap="square" stroke-linejoin="miter"/>
<path d="M594.3 463.25 L598.6 465.29 L598.6 474.69 L594.3 472.65 L594.3 463.25" fill="none" stroke="#23282b" stroke-width="1.12" stroke-linecap="square" stroke-linejoin="miter"/>
<path d="M629.9 474.99 L629.9 524.59 L625.6 522.55 L625.6 474.99" fill="none" stroke="#23282b" stroke-width="1.12" stroke-linecap="square" stroke-linejoin="miter"/>
<path d="M693.7 474.99 L693.7 485.94M693.7 497.98 L693.7 524.59 L689.4 522.55 L689.4 497.98M689.4 485.94 L689.4 474.99" fill="none" stroke="#23282b" stroke-width="1.12" stroke-linecap="square" stroke-linejoin="miter"/>
<path d="M757.5 474.99 L757.5 485.94M757.5 497.98 L757.5 524.59 L753.2 522.55 L753.2 497.98M753.2 485.94 L753.2 474.99" fill="none" stroke="#23282b" stroke-width="1.12" stroke-linecap="square" stroke-linejoin="miter"/>
<path d="M854.6 488.28 L647 488.28 L647 497.68 L678.3 497.68 L678.3 547.58 L687.1 547.58 L687.1 497.68 L742.1 497.68 L742.1 547.58 L750.9 547.58 L750.9 497.68 L805.9 497.68 L805.9 547.58 L814.7 547.58 L814.7 497.68 L854.6 497.68 L854.6 488.28" fill="none" stroke="#23282b" stroke-width="1.12" stroke-linecap="square" stroke-linejoin="miter"/>
<path d="M642.7 486.24 L850.3 486.24 L854.6 488.28 L647 488.28 L642.7 486.24" fill="none" stroke="#23282b" stroke-width="1.12" stroke-linecap="square" stroke-linejoin="miter"/>
<path d="M642.7 486.24 L647 488.28 L647 497.68 L642.7 495.64 L642.7 486.24" fill="none" stroke="#23282b" stroke-width="1.12" stroke-linecap="square" stroke-linejoin="miter"/>
<path d="M678.3 497.98 L678.3 547.58 L674 545.54 L674 497.98" fill="none" stroke="#23282b" stroke-width="1.12" stroke-linecap="square" stroke-linejoin="miter"/>
<path d="M742.1 497.98 L742.1 547.58 L737.8 545.54 L737.8 497.98" fill="none" stroke="#23282b" stroke-width="1.12" stroke-linecap="square" stroke-linejoin="miter"/>
<path d="M805.9 497.98 L805.9 547.58 L801.6 545.54 L801.6 497.98" fill="none" stroke="#23282b" stroke-width="1.12" stroke-linecap="square" stroke-linejoin="miter"/>
<path d="M728.3 571.33 L737.1 571.33 L737.1 581.13 L728.3 581.13 L728.3 571.33" fill="none" stroke="#23282b" stroke-width="1.12" stroke-linecap="square" stroke-linejoin="miter"/>
<path d="M540.6 482.17 L549.4 482.17 L576.9 495.24M590.93 501.9 L625.3 518.23M639.33 524.89 L673.7 541.22M687.73 547.88 L737.1 571.33 L728.3 571.33 L678.93 547.88M673.7 545.4 L630.53 524.89M625.3 522.41 L582.13 501.9M576.9 499.42 L540.6 482.17" fill="none" stroke="#23282b" stroke-width="1.12" stroke-linecap="square" stroke-linejoin="miter"/>
<path d="M540.6 482.17 L728.3 571.33 L728.3 581.13 L540.6 491.97 L540.6 482.17" fill="none" stroke="#23282b" stroke-width="1.12" stroke-linecap="square" stroke-linejoin="miter"/>
<path d="M792.1 571.33 L800.9 571.33 L800.9 581.13 L792.1 581.13 L792.1 571.33" fill="none" stroke="#23282b" stroke-width="1.12" stroke-linecap="square" stroke-linejoin="miter"/>
<path d="M604.4 482.17 L613.2 482.17 L625.3 487.92M639 494.43 L640.7 495.24M654.73 501.9 L673.7 510.91M687.4 517.42 L689.1 518.23M703.13 524.89 L737.5 541.22M751.53 547.88 L800.9 571.33 L792.1 571.33 L742.73 547.88M737.5 545.4 L694.33 524.89M689.1 522.41 L687.4 521.6M673.7 515.09 L645.93 501.9M640.7 499.42 L639 498.61M625.3 492.1 L604.4 482.17" fill="none" stroke="#23282b" stroke-width="1.12" stroke-linecap="square" stroke-linejoin="miter"/>
<path d="M604.4 482.17 L625.3 492.1M639 498.61 L673.7 515.09M687.4 521.6 L792.1 571.33 L792.1 581.13 L766.5 568.97M604.4 484.17 L604.4 482.17" fill="none" stroke="#23282b" stroke-width="1.12" stroke-linecap="square" stroke-linejoin="miter"/>
<path d="M855.9 571.33 L864.7 571.33 L864.7 581.13 L855.9 581.13 L855.9 571.33" fill="none" stroke="#23282b" stroke-width="1.12" stroke-linecap="square" stroke-linejoin="miter"/>
<path d="M668.2 482.17 L677 482.17 L684.93 485.94M718.53 501.9 L737.5 510.91M751.2 517.42 L752.9 518.23M766.93 524.89 L801.3 541.22M815.33 547.88 L864.7 571.33 L855.9 571.33 L806.53 547.88M801.3 545.39 L758.13 524.89M752.9 522.41 L751.2 521.6M737.5 515.09 L709.73 501.9M704.5 499.42 L702.8 498.61M676.13 485.94 L668.2 482.17" fill="none" stroke="#23282b" stroke-width="1.12" stroke-linecap="square" stroke-linejoin="miter"/>
<path d="M668.2 482.17 L676.13 485.94M702.8 498.61 L737.5 515.09M751.2 521.6 L855.9 571.33 L855.9 581.13 L824.5 566.21M668.2 485.94 L668.2 482.17" fill="none" stroke="#23282b" stroke-width="1.12" stroke-linecap="square" stroke-linejoin="miter"/>
<path d="M757.8 544.8 L751.2 544.8M701.7 544.8 L687.4 544.8M651.12 544.8 L550.2 544.8 L550.2 554.2 L581.5 554.2 L581.5 604.1 L590.3 604.1 L590.3 554.2 L645.3 554.2 L645.3 565.45M645.3 583.69 L645.3 588.44M645.3 599.7 L645.3 604.1 L654.1 604.1 L654.1 600.48M654.1 588.44 L654.1 583.69M667.2 554.2 L670.91 554.2M717.9 588.44 L717.9 583.69M757.8 550.53 L757.8 544.8" fill="none" stroke="#2e2210" stroke-width="1.12" stroke-linecap="square" stroke-linejoin="miter"/>
<path d="M545.9 542.76 L646.82 542.76M687.4 542.76 L697.55 542.76M751.2 542.76 L753.5 542.76 L757.8 544.8 L751.2 544.8M701.7 544.8 L687.4 544.8M651.12 544.8 L550.2 544.8 L545.9 542.76" fill="none" stroke="#2e2210" stroke-width="1.12" stroke-linecap="square" stroke-linejoin="miter"/>
<path d="M545.9 542.76 L550.2 544.8 L550.2 554.2 L545.9 552.16 L545.9 542.76" fill="none" stroke="#2e2210" stroke-width="1.12" stroke-linecap="square" stroke-linejoin="miter"/>
<path d="M581.5 554.5 L581.5 604.1 L577.2 602.06 L577.2 554.5" fill="none" stroke="#2e2210" stroke-width="1.12" stroke-linecap="square" stroke-linejoin="miter"/>
<path d="M645.3 554.5 L645.3 565.45M645.3 583.69 L645.3 588.44M645.3 599.7 L645.3 604.1 L641 602.06 L641 583.69M641 565.45 L641 554.5" fill="none" stroke="#2e2210" stroke-width="1.12" stroke-linecap="square" stroke-linejoin="miter"/>
<path d="M806.2 567.79 L794.15 567.79M750.25 567.79 L730.35 567.79M699.52 567.79 L598.6 567.79 L598.6 577.19 L629.9 577.19 L629.9 627.09 L638.7 627.09 L638.7 577.19 L693.7 577.19 L693.7 588.44M693.7 606.68 L693.7 627.09 L702.5 627.09 L702.5 606.68M715.6 577.19 L719.31 577.19M737.4 577.19 L757.5 577.19 L757.5 588.44M757.5 606.68 L757.5 627.09 L766.3 627.09 L766.3 606.68M773.6 577.19 L783.11 577.19M801.2 577.19 L806.2 577.19 L806.2 567.79" fill="none" stroke="#2e2210" stroke-width="1.12" stroke-linecap="square" stroke-linejoin="miter"/>
<path d="M594.3 565.75 L695.22 565.75M726.05 565.75 L745.95 565.75M789.85 565.75 L801.9 565.75 L806.2 567.79 L794.15 567.79M750.25 567.79 L730.35 567.79M699.52 567.79 L598.6 567.79 L594.3 565.75" fill="none" stroke="#2e2210" stroke-width="1.12" stroke-linecap="square" stroke-linejoin="miter"/>
<path d="M594.3 565.75 L598.6 567.79 L598.6 577.19 L594.3 575.15 L594.3 565.75" fill="none" stroke="#2e2210" stroke-width="1.12" stroke-linecap="square" stroke-linejoin="miter"/>
<path d="M629.9 577.49 L629.9 627.09 L625.6 625.05 L625.6 577.49" fill="none" stroke="#2e2210" stroke-width="1.12" stroke-linecap="square" stroke-linejoin="miter"/>
<path d="M693.7 577.49 L693.7 588.44M693.7 606.68 L693.7 627.09 L689.4 625.05 L689.4 606.68M689.4 588.44 L689.4 577.49" fill="none" stroke="#2e2210" stroke-width="1.12" stroke-linecap="square" stroke-linejoin="miter"/>
<path d="M757.5 577.49 L757.5 588.44M757.5 606.68 L757.5 627.09 L753.2 625.05 L753.2 606.68M753.2 588.44 L753.2 577.49" fill="none" stroke="#2e2210" stroke-width="1.12" stroke-linecap="square" stroke-linejoin="miter"/>
<path d="M854.6 590.78 L647 590.78 L647 600.18 L678.3 600.18 L678.3 650.08 L687.1 650.08 L687.1 600.18 L742.1 600.18 L742.1 650.08 L750.9 650.08 L750.9 600.18 L805.9 600.18 L805.9 650.08 L814.7 650.08 L814.7 600.18 L854.6 600.18 L854.6 590.78" fill="none" stroke="#2e2210" stroke-width="1.12" stroke-linecap="square" stroke-linejoin="miter"/>
<path d="M642.7 588.74 L850.3 588.74 L854.6 590.78 L647 590.78 L642.7 588.74" fill="none" stroke="#2e2210" stroke-width="1.12" stroke-linecap="square" stroke-linejoin="miter"/>
<path d="M642.7 588.74 L647 590.78 L647 600.18 L642.7 598.14 L642.7 588.74" fill="none" stroke="#2e2210" stroke-width="1.12" stroke-linecap="square" stroke-linejoin="miter"/>
<path d="M678.3 600.48 L678.3 650.08 L674 648.04 L674 600.48" fill="none" stroke="#2e2210" stroke-width="1.12" stroke-linecap="square" stroke-linejoin="miter"/>
<path d="M742.1 600.48 L742.1 650.08 L737.8 648.04 L737.8 600.48" fill="none" stroke="#2e2210" stroke-width="1.12" stroke-linecap="square" stroke-linejoin="miter"/>
<path d="M805.9 600.48 L805.9 650.08 L801.6 648.04 L801.6 600.48" fill="none" stroke="#2e2210" stroke-width="1.12" stroke-linecap="square" stroke-linejoin="miter"/>
<path d="M728.3 673.83 L737.1 673.83 L737.1 683.63 L728.3 683.63 L728.3 673.83" fill="none" stroke="#2e2210" stroke-width="1.12" stroke-linecap="square" stroke-linejoin="miter"/>
<path d="M540.6 584.67 L549.4 584.67 L576.9 597.74M590.93 604.4 L625.3 620.73M639.33 627.39 L673.7 643.72M687.73 650.38 L737.1 673.83 L728.3 673.83 L678.93 650.38M673.7 647.9 L630.53 627.39M625.3 624.91 L582.13 604.4M576.9 601.92 L540.6 584.67" fill="none" stroke="#2e2210" stroke-width="1.12" stroke-linecap="square" stroke-linejoin="miter"/>
<path d="M540.6 584.67 L728.3 673.83 L728.3 683.63 L540.6 594.47 L540.6 584.67" fill="none" stroke="#2e2210" stroke-width="1.12" stroke-linecap="square" stroke-linejoin="miter"/>
<path d="M792.1 673.83 L800.9 673.83 L800.9 683.63 L792.1 683.63 L792.1 673.83" fill="none" stroke="#2e2210" stroke-width="1.12" stroke-linecap="square" stroke-linejoin="miter"/>
<path d="M604.4 584.67 L613.2 584.67 L625.3 590.42M639 596.93 L640.7 597.74M654.73 604.4 L673.7 613.41M687.4 619.92 L689.1 620.73M703.13 627.39 L737.5 643.72M751.53 650.38 L800.9 673.83 L792.1 673.83 L742.73 650.38M737.5 647.9 L694.33 627.39M689.1 624.91 L687.4 624.1M673.7 617.59 L645.93 604.4M640.7 601.92 L639 601.11M625.3 594.6 L604.4 584.67" fill="none" stroke="#2e2210" stroke-width="1.12" stroke-linecap="square" stroke-linejoin="miter"/>
<path d="M604.4 584.67 L625.3 594.6M639 601.11 L673.7 617.59M687.4 624.1 L792.1 673.83 L792.1 683.63 L687.4 633.9M673.7 627.39 L639 610.91M625.3 604.4 L604.4 594.47 L604.4 584.67" fill="none" stroke="#2e2210" stroke-width="1.12" stroke-linecap="square" stroke-linejoin="miter"/>
<path d="M855.9 673.83 L864.7 673.83 L864.7 683.63 L855.9 683.63 L855.9 673.83" fill="none" stroke="#2e2210" stroke-width="1.12" stroke-linecap="square" stroke-linejoin="miter"/>
<path d="M668.2 584.67 L677 584.67 L684.93 588.44M723.33 606.68 L737.5 613.41M751.2 619.92 L752.9 620.73M766.93 627.39 L801.3 643.72M815.33 650.38 L864.7 673.83 L855.9 673.83 L806.53 650.38M801.3 647.89 L758.13 627.39M752.9 624.91 L751.2 624.1M737.5 617.59 L714.53 606.68M676.13 588.44 L668.2 584.67" fill="none" stroke="#2e2210" stroke-width="1.12" stroke-linecap="square" stroke-linejoin="miter"/>
<path d="M668.2 584.67 L676.13 588.44M714.53 606.68 L737.5 617.59M751.2 624.1 L855.9 673.83 L855.9 683.63 L751.2 633.9M737.5 627.39 L702.8 610.91M668.2 588.44 L668.2 584.67" fill="none" stroke="#2e2210" stroke-width="1.12" stroke-linecap="square" stroke-linejoin="miter"/>
<path d="M609.5 500.93 L609.5 510.39M609.5 525.03 L609.5 542.46M590.6 560.4 L640.7 560.4M667.2 560.4 L683.96 560.4M725.2 560.4 L734.7 560.4M783.2 560.4 L787.7 560.4 L787.7 558.03M759.7 550.6 L758.1 550.6M734.5 539.46 L734.5 532.76M734.5 509.15 L734.5 505.21M725.5 500.93 L725.5 504.88M725.5 528.48 L725.5 535.18M667.5 500.93 L667.5 507.63M667.5 528.48 L667.5 537.94M618.5 542.46 L618.5 529.31M618.5 514.66 L618.5 505.21" fill="none" stroke="#1a2e40" stroke-width="1.12" stroke-linecap="square" stroke-linejoin="miter"/>
<path d="M758.1 548.56 L759.7 548.56M759.7 550.6 L758.1 550.6" fill="none" stroke="#1a2e40" stroke-width="1.12" stroke-linecap="square" stroke-linejoin="miter"/>
<path d="M605.2 498.56 L609.5 500.6 L609.5 510.39M609.5 525.03 L609.5 542.46M605.2 542.46 L605.2 522.99M605.2 508.35 L605.2 498.56" fill="none" stroke="#1a2e40" stroke-width="1.12" stroke-linecap="square" stroke-linejoin="miter"/>
<path d="M663.2 498.56 L667.5 500.6 L667.5 507.63M667.5 528.48 L667.5 537.94M663.2 505.59 L663.2 498.56" fill="none" stroke="#1a2e40" stroke-width="1.12" stroke-linecap="square" stroke-linejoin="miter"/>
<path d="M721.2 498.56 L725.5 500.6 L725.5 504.88M725.5 528.48 L725.5 535.18M721.2 502.84 L721.2 498.56" fill="none" stroke="#1a2e40" stroke-width="1.12" stroke-linecap="square" stroke-linejoin="miter"/>
<path d="M657.9 523.92 L657.9 533.38M657.9 548.02 L657.9 565.45M639 583.39 L689.1 583.39M715.6 583.39 L752.9 583.39M773.6 583.39 L817.7 583.39M831.6 583.39 L836.1 583.39 L836.1 573.59 L831.6 573.59M817.7 573.59 L806.5 573.59M782.9 562.45 L782.9 555.75M782.9 532.14 L782.9 528.2M773.9 523.92 L773.9 527.87M773.9 551.47 L773.9 558.17M724.9 565.2 L724.9 555.75M724.9 534.9 L724.9 528.2M715.9 523.92 L715.9 530.62M715.9 551.47 L715.9 560.93M666.9 565.45 L666.9 552.3M666.9 537.65 L666.9 528.2" fill="none" stroke="#1a2e40" stroke-width="1.12" stroke-linecap="square" stroke-linejoin="miter"/>
<path d="M806.5 571.55 L817.7 571.55M831.6 571.55 L831.8 571.55 L836.1 573.59 L831.6 573.59M817.7 573.59 L806.5 573.59" fill="none" stroke="#1a2e40" stroke-width="1.12" stroke-linecap="square" stroke-linejoin="miter"/>
<path d="M653.6 521.55 L657.9 523.59 L657.9 533.38M657.9 548.02 L657.9 565.45M653.6 565.45 L653.6 545.98M653.6 531.34 L653.6 521.55" fill="none" stroke="#1a2e40" stroke-width="1.12" stroke-linecap="square" stroke-linejoin="miter"/>
<path d="M711.6 521.55 L715.9 523.59 L715.9 530.62M715.9 551.47 L715.9 560.93M711.6 528.58 L711.6 521.55" fill="none" stroke="#1a2e40" stroke-width="1.12" stroke-linecap="square" stroke-linejoin="miter"/>
<path d="M769.6 521.55 L773.9 523.59 L773.9 527.87M773.9 551.47 L773.9 558.17M769.6 525.83 L769.6 521.55" fill="none" stroke="#1a2e40" stroke-width="1.12" stroke-linecap="square" stroke-linejoin="miter"/>
<path d="M706.3 546.91 L706.3 556.37M706.3 571.01 L706.3 588.44M687.4 606.38 L737.5 606.38M751.2 606.38 L801.3 606.38M815 606.38 L884.5 606.38 L884.5 596.58 L854.9 596.58M831.3 588.44 L831.3 569.78M831.3 555.13 L831.3 551.19M822.3 546.91 L822.3 550.86M822.3 571.06 L822.3 588.44M773.3 588.44 L773.3 572.53M773.3 557.89 L773.3 551.19M764.3 546.91 L764.3 553.61M764.3 571.06 L764.3 588.44M715.3 588.44 L715.3 575.29M715.3 560.64 L715.3 551.19" fill="none" stroke="#1a2e40" stroke-width="1.12" stroke-linecap="square" stroke-linejoin="miter"/>
<path d="M854.9 594.54 L880.2 594.54 L884.5 596.58 L854.9 596.58" fill="none" stroke="#1a2e40" stroke-width="1.12" stroke-linecap="square" stroke-linejoin="miter"/>
<path d="M702 544.54 L706.3 546.58 L706.3 556.37M706.3 571.01 L706.3 588.44M702 588.44 L702 568.97M702 554.33 L702 544.54" fill="none" stroke="#1a2e40" stroke-width="1.12" stroke-linecap="square" stroke-linejoin="miter"/>
<path d="M760 544.54 L764.3 546.58 L764.3 553.61M764.3 571.06 L764.3 588.44M760 588.44 L760 571.06M760 551.57 L760 544.54" fill="none" stroke="#1a2e40" stroke-width="1.12" stroke-linecap="square" stroke-linejoin="miter"/>
<path d="M818 544.54 L822.3 546.58 L822.3 550.86M822.3 571.06 L822.3 588.44M818 588.44 L818 571.06M818 548.82 L818 544.54" fill="none" stroke="#1a2e40" stroke-width="1.12" stroke-linecap="square" stroke-linejoin="miter"/>
<path d="M757.2 561.36 L766.2 561.36 L766.2 570.76 L757.2 570.76 L757.2 561.36" fill="none" stroke="#1a2e40" stroke-width="1.12" stroke-linecap="square" stroke-linejoin="miter"/>
<path d="M568.5 471.72 L576.9 471.72M590.6 477.95 L625.3 494.43M639 500.94 L673.7 517.42M687.4 523.93 L766.2 561.36 L757.2 561.36 L687.4 528.2M673.7 521.69 L639 505.21M625.3 498.7 L590.6 482.22M576.9 475.72 L568.5 471.72" fill="none" stroke="#1a2e40" stroke-width="1.12" stroke-linecap="square" stroke-linejoin="miter"/>
<path d="M568.5 471.72 L576.9 475.72M590.6 482.22 L625.3 498.7M639 505.21 L673.7 521.69M687.4 528.2 L757.2 561.36 L757.2 570.76 L687.4 537.6M673.7 531.1 L639 514.61M625.3 508.11 L590.6 491.62M576.9 485.12 L568.5 481.12 L568.5 471.72" fill="none" stroke="#1a2e40" stroke-width="1.12" stroke-linecap="square" stroke-linejoin="miter"/>
<path d="M815.2 561.36 L824.2 561.36 L824.2 570.76 L815.2 570.76 L815.2 561.36" fill="none" stroke="#1a2e40" stroke-width="1.12" stroke-linecap="square" stroke-linejoin="miter"/>
<path d="M654.4 480.7 L665.42 485.94M702.8 503.69 L737.5 520.17M751.2 526.68 L824.2 561.36 L815.2 561.36 L751.2 530.96M737.5 524.45 L702.8 507.97M689.1 501.46 L687.4 500.65M656.42 485.94 L654.4 484.98M640.7 478.47 L639 477.66" fill="none" stroke="#1a2e40" stroke-width="1.12" stroke-linecap="square" stroke-linejoin="miter"/>
<path d="M639 477.66 L640.7 478.47M654.4 484.98 L656.42 485.94M687.4 500.65 L689.1 501.46M702.8 507.97 L737.5 524.45M751.2 530.96 L815.2 561.36 L815.2 570.76 L751.2 540.36M737.5 533.85 L702.8 517.37M689.1 510.86 L687.4 510.05M673.7 503.55 L661.98 497.98M640.7 487.87 L639 487.06" fill="none" stroke="#1a2e40" stroke-width="1.12" stroke-linecap="square" stroke-linejoin="miter"/>
<path d="M873.2 561.36 L882.2 561.36 L882.2 570.76 L873.2 570.76 L873.2 561.36" fill="none" stroke="#1a2e40" stroke-width="1.12" stroke-linecap="square" stroke-linejoin="miter"/>
<path d="M702.8 476.14 L704.5 476.95M718.2 483.46 L723.42 485.94M751.2 499.13 L752.9 499.94M766.6 506.45 L801.3 522.93M815 529.44 L882.2 561.36 L873.2 561.36 L815 533.71M801.3 527.2 L766.6 510.72M752.9 504.21 L751.2 503.41M704.5 481.23 L702.8 480.42" fill="none" stroke="#1a2e40" stroke-width="1.12" stroke-linecap="square" stroke-linejoin="miter"/>
<path d="M702.8 480.42 L704.5 481.23M751.2 503.41 L752.9 504.21M766.6 510.72 L801.3 527.2M815 533.71 L873.2 561.36 L873.2 570.76 L815 543.11M801.3 536.61 L766.6 520.12M752.9 513.62 L751.2 512.81M737.5 506.3 L719.98 497.98M689.1 483.31 L684.5 481.12 L684.5 474.99" fill="none" stroke="#1a2e40" stroke-width="1.12" stroke-linecap="square" stroke-linejoin="miter"/>
<path d="M750.9 497.68 805.9 497.68 805.9 547.58 750.9 547.58Z" fill="#fae21a" fill-opacity="0.87"/>
<path d="M726.81 486.24 781.81 486.24 757.5 474.69 702.5 474.69ZM654.1 451.7 678.41 463.25 733.41 463.25 709.1 451.7Z" fill="#fae21a" fill-opacity="0.87"/>
<path d="M702.5 524.59 737.8 541.36 737.8 497.68 702.5 497.68ZM702.5 474.69 702.5 486.24 726.81 486.24ZM654.1 474.69 654.1 486.24 689.4 486.24 689.4 474.69ZM689.4 518.37 689.4 497.68 687.1 497.68 687.1 517.27ZM654.1 451.7 654.1 463.25 678.41 463.25ZM654.1 501.6 674 511.05 674 497.68 654.1 497.68Z" fill="#fae21a" fill-opacity="0.87"/>
<path d="M750.9 497.68 L805.9 497.68 L805.9 547.58 L750.9 547.58 L750.9 497.68" fill="none" stroke="#b8a400" stroke-width="0.6"/>
<path d="M709.73 452 L732.78 462.95M758.13 474.99 L781.18 485.94M726.18 485.94 L703.13 474.99M677.78 462.95 L654.73 452" fill="none" stroke="#b8a400" stroke-width="0.6"/>
<path d="M654.4 451.84 L677.78 462.95M703.13 474.99 L726.18 485.94M737.5 541.22 L702.8 524.73M689.1 518.23 L687.4 517.42M673.7 510.91 L654.4 501.74" fill="none" stroke="#b8a400" stroke-width="0.6"/>
<rect x="447.2" y="258.2" width="18.3" height="4.3" fill="#111"/>
<rect x="447.2" y="268.1" width="18.3" height="3.9" fill="#111"/>
<path d="M661.2 372.9 H671.7 V387.3 H678.5 L666.3 399.8 L654.1 387.3 H661.2 Z" fill="#111"/>
<path d="M185.2 158.4 L380.2 158.4" stroke="#111" stroke-width="2.2" stroke-dasharray="2.9 2.3" fill="none"/><path d="M387.2 158.4 L378.7 162.4 L381.25 158.4 L378.7 154.4 Z" fill="#111"/>
<path d="M283.2 292.6 L382.93 364.8" stroke="#111" stroke-width="2.2" stroke-dasharray="2.9 2.3" fill="none"/><path d="M388.6 368.9 L379.37 367.16 L383.78 365.41 L384.06 360.68 Z" fill="#111"/>
<path d="M625.2 163 L787 163" stroke="#111" stroke-width="2.2" stroke-dasharray="2.9 2.3" fill="none"/><path d="M794 163 L785.5 167 L788.05 163 L785.5 159 Z" fill="#111"/>
<path d="M687.6 307.7 L788.81 364.95" stroke="#111" stroke-width="2.2" stroke-dasharray="2.9 2.3" fill="none"/><path d="M794.9 368.4 L785.53 367.7 L789.72 365.47 L789.47 360.73 Z" fill="#111"/>
<path d="M564.3 426.1 L725.7 426.1" stroke="#111" stroke-width="2.2" stroke-dasharray="2.9 2.3" fill="none"/><path d="M732.7 426.1 L724.2 430.1 L726.75 426.1 L724.2 422.1 Z" fill="#111"/>
<path d="M569.6 628.4 L685 684.15" stroke="#111" stroke-width="2.2" stroke-dasharray="2.9 2.3" fill="none"/><path d="M691.3 687.2 L681.91 687.1 L685.94 684.61 L685.39 679.9 Z" fill="#111"/>
<path d="M778.3 519.5 H868.3" stroke="#222" stroke-width="1.3"/>
<text x="878" y="527.8" font-family="Liberation Sans, sans-serif" font-size="20.5" fill="#222" stroke="#222" stroke-width="0.25">Channel</text>
<text x="474" y="744.3" font-family="Liberation Sans, sans-serif" font-size="16.5" word-spacing="2.4" fill="#1a1a1a" stroke="#1a1a1a" stroke-width="0.3">©Johan Jarnestad/The Royal Swedish Academy of Sciences</text>
</svg>
</body></html>
